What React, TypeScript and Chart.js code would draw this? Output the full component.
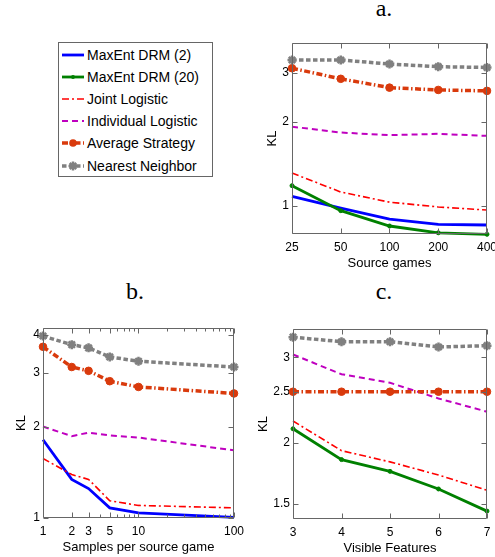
import React, { useEffect, useRef } from "react";
import { Chart, registerables } from "chart.js";

Chart.register(...registerables);

// ---------- Series names ----------
const SERIES_NAMES = [
  "MaxEnt DRM (2)",
  "MaxEnt DRM (20)",
  "Joint Logistic",
  "Individual Logistic",
  "Average Strategy",
  "Nearest Neighbor",
];

// ---------- Panel a: Source games ----------
const aSourceGames = [25, 50, 100, 200, 400];
const aMaxEnt2 = [1.08, 0.98, 0.896, 0.858, 0.853];
const aMaxEnt20 = [1.18, 0.96, 0.846, 0.8, 0.79];
const aJoint = [1.31, 1.12, 1.03, 0.99, 0.965];
const aIndividual = [1.92, 1.83, 1.79, 1.81, 1.78];
const aAverage = [3.11, 2.85, 2.65, 2.6, 2.58];
const aNearest = [3.33, 3.33, 3.22, 3.15, 3.13];
const aXTicks = [25, 50, 100, 200, 400];
const aXTickLabels = ["25", "50", "100", "200", "400"];
const aYTicks = [1, 2, 3];
const aYTickLabels = ["1", "2", "3"];

// ---------- Panel b: Samples per source game ----------
const bSamples = [1, 2, 3, 5, 10, 100];
const bMaxEnt2 = [1.81, 1.34, 1.25, 1.08, 1.04, 1.005];
const bJoint = [1.57, 1.39, 1.34, 1.14, 1.1, 1.08];
const bIndividual = [2.0, 1.86, 1.91, 1.87, 1.84, 1.67];
const bAverage = [3.66, 3.14, 3.05, 2.82, 2.7, 2.57];
const bNearest = [3.97, 3.72, 3.63, 3.39, 3.28, 3.14];
const bXTicks = [1, 2, 3, 5, 10, 100];
const bXTickLabels = ["1", "2", "3", "5", "10", "100"];
const bXMinorTicks = [4, 6, 7, 8, 9, 20, 30, 40, 50, 60, 70, 80, 90];
const bYTicks = [1, 2, 3, 4];
const bYTickLabels = ["1", "2", "3", "4"];

// ---------- Panel c: Visible Features ----------
const cFeatures = [3, 4, 5, 6, 7];
const cMaxEnt20 = [2.14, 1.85, 1.75, 1.61, 1.45];
const cJoint = [2.22, 1.93, 1.83, 1.72, 1.6];
const cIndividual = [3.04, 2.77, 2.66, 2.47, 2.32];
const cAverage = [2.55, 2.55, 2.55, 2.55, 2.55];
const cNearest = [3.3, 3.23, 3.23, 3.15, 3.17];
const cXTicks = [3, 4, 5, 6, 7];
const cXTickLabels = ["3", "4", "5", "6", "7"];
const cYTicks = [1.5, 2, 2.55, 3];
const cYTickLabels = ["1.5", "2", "2.5", "3"];

// ---------- Styles ----------
type SeriesStyle = {
  color: string;
  width: number;
  dash: number[];
  point: null | { style: string; r: number; bw: number };
};

const STYLES: SeriesStyle[] = [
  { color: "#0000ff", width: 2.8, dash: [], point: null },
  { color: "#008000", width: 2.8, dash: [], point: { style: "circle", r: 2, bw: 1 } },
  { color: "#ff0000", width: 1.6, dash: [7, 3, 2, 3], point: null },
  { color: "#bf00bf", width: 2, dash: [6, 4], point: null },
  { color: "#d93a0c", width: 3.5, dash: [6, 2.5, 1.5, 2.5], point: { style: "circle", r: 3.8, bw: 1 } },
  { color: "#808080", width: 3.5, dash: [4.5, 2.5], point: { style: "star", r: 4.5, bw: 2.5 } },
];

const FONT = "'Liberation Sans', Arial, Helvetica, sans-serif";
const FRAME_COLOR = "#666666";

function makeDataset(idx: number, xs: number[], ys: number[]) {
  const s = STYLES[idx];
  return {
    label: SERIES_NAMES[idx],
    data: xs.map((x, i) => ({ x, y: ys[i] })),
    borderColor: s.color,
    backgroundColor: s.color,
    borderWidth: s.width,
    borderDash: s.dash,
    fill: false,
    tension: 0,
    pointRadius: s.point ? s.point.r : 0,
    pointStyle: s.point ? s.point.style : "circle",
    pointBackgroundColor: s.color,
    pointBorderColor: s.color,
    pointBorderWidth: s.point ? s.point.bw : 0,
    order: 10 - idx,
    clip: 8,
  };
}

function framePlugin(xTicks: number[], yTicks: number[], xMinor: number[] = []) {
  return {
    id: "frameTicks",
    afterDatasetsDraw(chart: any) {
      const { ctx, chartArea } = chart;
      const xs = chart.scales.x;
      const ys = chart.scales.y;
      const L = Math.round(chartArea.left) + 0.5;
      const R = Math.round(chartArea.right) - 0.5;
      const T = Math.round(chartArea.top) + 0.5;
      const B = Math.round(chartArea.bottom) - 0.5;
      ctx.save();
      ctx.setLineDash([]);
      ctx.strokeStyle = FRAME_COLOR;
      ctx.lineWidth = 1;
      ctx.beginPath();
      ctx.rect(L, T, R - L, B - T);
      const drawX = (vals: number[], len: number) => {
        vals.forEach((v) => {
          const p = Math.round(xs.getPixelForValue(v)) + 0.5;
          ctx.moveTo(p, B);
          ctx.lineTo(p, B - len);
          ctx.moveTo(p, T);
          ctx.lineTo(p, T + len);
        });
      };
      const drawY = (vals: number[], len: number) => {
        vals.forEach((v) => {
          const p = Math.round(ys.getPixelForValue(v)) + 0.5;
          ctx.moveTo(L, p);
          ctx.lineTo(L + len, p);
          ctx.moveTo(R, p);
          ctx.lineTo(R - len, p);
        });
      };
      drawX(xTicks, 5);
      drawY(yTicks, 5);
      drawX(xMinor, 3);
      ctx.stroke();
      ctx.restore();
    },
  };
}

type PanelSpec = {
  left: number;
  top: number;
  width: number;
  height: number;
  padding: { left: number; right: number; top: number; bottom: number };
  yWidth: number;
  xType: "linear" | "logarithmic";
  xMin: number;
  xMax: number;
  xTicks: number[];
  xTickLabels: string[];
  xMinor?: number[];
  xTitle: string;
  yMin: number;
  yMax: number;
  yTicks: number[];
  yTickLabels: string[];
  datasets: any[];
};

function Panel({ spec }: { spec: PanelSpec }) {
  const ref = useRef<HTMLCanvasElement | null>(null);
  useEffect(() => {
    if (!ref.current) return;
    const chart = new Chart(ref.current, {
      type: "line",
      data: { datasets: spec.datasets },
      plugins: [framePlugin(spec.xTicks, spec.yTicks, spec.xMinor || [])],
      options: {
        animation: false,
        responsive: false,
        devicePixelRatio: 1,
        layout: { padding: spec.padding },
        plugins: {
          legend: { display: false },
          tooltip: { enabled: false },
          title: { display: false },
        },
        scales: {
          x: {
            type: spec.xType,
            min: spec.xMin,
            max: spec.xMax,
            afterBuildTicks: (scale: any) => {
              scale.ticks = spec.xTicks.map((v) => ({ value: v }));
            },
            afterFit: (scale: any) => {
              scale.height = 37;
            },
            ticks: {
              autoSkip: false,
              maxRotation: 0,
              minRotation: 0,
              padding: 6,
              color: "#000",
              font: { family: FONT, size: 12 },
              callback: (_v: any, i: number) => spec.xTickLabels[i],
            },
            grid: { display: false, drawTicks: false },
            border: { display: false },
            title: {
              display: true,
              text: spec.xTitle,
              color: "#000",
              font: { family: FONT, size: 13 },
              padding: 0,
            },
          },
          y: {
            type: "logarithmic",
            min: spec.yMin,
            max: spec.yMax,
            afterBuildTicks: (scale: any) => {
              scale.ticks = spec.yTicks.map((v) => ({ value: v }));
            },
            afterFit: (scale: any) => {
              scale.width = spec.yWidth;
            },
            ticks: {
              autoSkip: false,
              padding: 3,
              color: "#000",
              font: { family: FONT, size: 12 },
              callback: (_v: any, i: number) => spec.yTickLabels[i],
            },
            grid: { display: false, drawTicks: false },
            border: { display: false },
            title: {
              display: true,
              text: "KL",
              color: "#000",
              font: { family: FONT, size: 13 },
              padding: 0,
            },
          },
        },
      } as any,
    });
    return () => chart.destroy();
  }, []);
  return (
    <canvas
      ref={ref}
      width={spec.width}
      height={spec.height}
      style={{
        position: "absolute",
        left: spec.left,
        top: spec.top,
        width: spec.width,
        height: spec.height,
      }}
    />
  );
}

const panelA: PanelSpec = {
  left: 265,
  top: 0,
  width: 245,
  height: 280,
  padding: { left: 0, right: 23, top: 43, bottom: 9 },
  yWidth: 27,
  xType: "logarithmic",
  xMin: 25,
  xMax: 400,
  xTicks: aXTicks,
  xTickLabels: aXTickLabels,
  xTitle: "Source games",
  yMin: 0.792,
  yMax: 3.83,
  yTicks: aYTicks,
  yTickLabels: aYTickLabels,
  datasets: [
    makeDataset(0, aSourceGames, aMaxEnt2),
    makeDataset(1, aSourceGames, aMaxEnt20),
    makeDataset(2, aSourceGames, aJoint),
    makeDataset(3, aSourceGames, aIndividual),
    makeDataset(4, aSourceGames, aAverage),
    makeDataset(5, aSourceGames, aNearest),
  ],
};

const panelB: PanelSpec = {
  left: 14,
  top: 300,
  width: 236,
  height: 257,
  padding: { left: 0, right: 13, top: 28, bottom: 2 },
  yWidth: 29,
  xType: "logarithmic",
  xMin: 1,
  xMax: 100,
  xTicks: bXTicks,
  xTickLabels: bXTickLabels,
  xMinor: bXMinorTicks,
  xTitle: "Samples per source game",
  yMin: 1,
  yMax: 4.22,
  yTicks: bYTicks,
  yTickLabels: bYTickLabels,
  datasets: [
    makeDataset(0, bSamples, bMaxEnt2),
    makeDataset(2, bSamples, bJoint),
    makeDataset(3, bSamples, bIndividual),
    makeDataset(4, bSamples, bAverage),
    makeDataset(5, bSamples, bNearest),
  ],
};

const panelC: PanelSpec = {
  left: 256,
  top: 300,
  width: 254,
  height: 257,
  padding: { left: 0, right: 23, top: 29, bottom: 1 },
  yWidth: 37,
  xType: "linear",
  xMin: 3,
  xMax: 7,
  xTicks: cXTicks,
  xTickLabels: cXTickLabels,
  xTitle: "Visible Features",
  yMin: 1.397,
  yMax: 3.43,
  yTicks: cYTicks,
  yTickLabels: cYTickLabels,
  datasets: [
    makeDataset(1, cFeatures, cMaxEnt20),
    makeDataset(2, cFeatures, cJoint),
    makeDataset(3, cFeatures, cIndividual),
    makeDataset(4, cFeatures, cAverage),
    makeDataset(5, cFeatures, cNearest),
  ],
};

function LegendSample({ idx }: { idx: number }) {
  const s = STYLES[idx];
  const cx = 11;
  const cy = 6;
  let marker: any = null;
  if (s.point && s.point.style === "circle") {
    marker = <circle cx={cx} cy={cy} r={s.point.r} fill={s.color} />;
  } else if (s.point && s.point.style === "star") {
    const r = s.point.r;
    const d = r * 0.707;
    marker = (
      <g stroke={s.color} strokeWidth={s.point.bw}>
        <line x1={cx - r} y1={cy} x2={cx + r} y2={cy} />
        <line x1={cx} y1={cy - r} x2={cx} y2={cy + r} />
        <line x1={cx - d} y1={cy - d} x2={cx + d} y2={cy + d} />
        <line x1={cx - d} y1={cy + d} x2={cx + d} y2={cy - d} />
      </g>
    );
  }
  return (
    <svg width={23} height={12} style={{ position: "absolute", left: 3, top: 5 }}>
      <line
        x1={0}
        y1={cy}
        x2={22}
        y2={cy}
        stroke={s.color}
        strokeWidth={s.width}
        strokeDasharray={s.dash.length ? s.dash.join(" ") : undefined}
      />
      {marker}
    </svg>
  );
}

function Legend() {
  return (
    <div
      style={{
        position: "absolute",
        left: 58,
        top: 42,
        width: 155,
        height: 135,
        boxSizing: "border-box",
        border: `1px solid ${FRAME_COLOR}`,
        background: "#fff",
      }}
    >
      {SERIES_NAMES.map((name, i) => (
        <div
          key={name}
          style={{
            position: "absolute",
            left: 0,
            top: 0.5 + i * 22.2,
            height: 22,
            width: 152,
          }}
        >
          <LegendSample idx={i} />
          <div
            style={{
              position: "absolute",
              left: 28,
              top: 0,
              height: 22,
              lineHeight: "22px",
              fontFamily: FONT,
              fontSize: 14,
              color: "#000",
              whiteSpace: "nowrap",
            }}
          >
            {name}
          </div>
        </div>
      ))}
    </div>
  );
}

function PanelTitle({ text, cx, top }: { text: string; cx: number; top: number }) {
  return (
    <div
      style={{
        position: "absolute",
        left: cx - 50,
        top,
        width: 100,
        textAlign: "center",
        fontFamily: "'Liberation Serif', 'Times New Roman', serif",
        fontSize: 24,
        lineHeight: "24px",
        color: "#000",
      }}
    >
      {text}
    </div>
  );
}

export default function App() {
  return (
    <div
      style={{
        position: "fixed",
        left: 0,
        top: 0,
        width: 495,
        height: 557,
        overflow: "hidden",
        background: "#fff",
      }}
    >
      <PanelTitle text="a." cx={384} top={-4} />
      <PanelTitle text="b." cx={135} top={279} />
      <PanelTitle text="c." cx={384} top={279} />
      <Panel spec={panelA} />
      <Panel spec={panelB} />
      <Panel spec={panelC} />
      <Legend />
    </div>
  );
}
